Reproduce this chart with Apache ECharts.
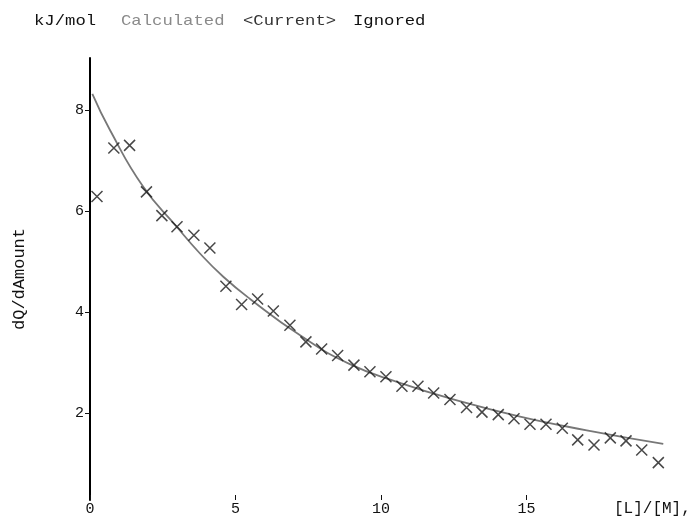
<!DOCTYPE html>
<html><head><meta charset="utf-8">
<script src="https://cdn.jsdelivr.net/npm/echarts@6/dist/echarts.min.js"></script>
<style>html,body{margin:0;padding:0;background:#fff}#c{width:698px;height:523px}</style>
</head><body><div id="c"></div>
<script>
// Measured points (x = [L]/[M], y = dQ/dAmount, kJ/mol)
const ratioX = [0.24,0.82,1.36,1.94,2.47,2.99,3.57,4.12,4.67,5.21,5.76,6.30,6.87,7.42,7.96,8.51,9.07,9.62,10.17,10.72,11.27,11.81,12.37,12.94,13.47,14.03,14.57,15.12,15.67,16.23,16.76,17.32,17.88,18.42,18.96,19.53];
const dQ = [6.29,7.25,7.30,6.38,5.91,5.69,5.52,5.27,4.51,4.15,4.26,4.02,3.74,3.41,3.27,3.14,2.95,2.82,2.72,2.53,2.53,2.40,2.27,2.11,2.02,1.97,1.89,1.78,1.78,1.70,1.47,1.37,1.51,1.45,1.27,1.02];
// Calculated fit curve
const fitX = [0.08,0.69,1.83,2.98,3.78,4.58,5.5,7.22,8.93,10.65,12.31,14.78,17.07,19.7];
const fitY = [8.32,7.60,6.48,5.69,5.16,4.70,4.26,3.54,2.97,2.60,2.30,1.93,1.66,1.39];
const xTicks = [0,5,10,15];
const yTicks = [2,4,6,8];

const font = 'Liberation Mono';
const chart = echarts.init(document.getElementById('c'));
const hdr = (x, t, c) => ({type:'text', x: x, y: 14, scaleX: 1.15, style:{text:t, fill:c, fontFamily: font, fontSize: 15}});
chart.setOption({
  animation: false,
  backgroundColor: '#fff',
  grid: {left: 90, right: 26, top: 58, bottom: 23},
  graphic: [
    hdr(34, 'kJ/mol', '#111'),
    hdr(121, 'Calculated', '#8a8a8a'),
    hdr(243, '<Current>', '#333'),
    hdr(353, 'Ignored', '#111')
  ],
  xAxis: {
    type: 'value', min: 0, max: 20,
    name: '[L]/[M],', nameLocation: 'end', nameGap: -58,
    nameTextStyle: {color:'#111', fontFamily: font, fontSize: 16, align:'left', verticalAlign:'top', padding:[1,0,0,0]},
    axisLine: {show: false},
    axisTick: {show: true, inside: true, length: 5, lineStyle:{color:'#111'}, customValues: xTicks},
    axisLabel: {color:'#111', fontFamily: font, fontSize: 15, margin: 2, customValues: xTicks},
    splitLine: {show: false}
  },
  yAxis: {
    type: 'value', min: 0.28, max: 9.03,
    name: 'dQ/dAmount', nameLocation: 'middle', nameGap: 62, nameRotate: 90,
    nameTextStyle: {color:'#111', fontFamily: font, fontSize: 17},
    axisLine: {show: true, lineStyle:{color:'#000', width: 2}},
    axisTick: {show: true, length: 5, lineStyle:{color:'#111'}, customValues: yTicks},
    axisLabel: {color:'#111', fontFamily: font, fontSize: 15, margin: 6, customValues: yTicks},
    splitLine: {show: false}
  },
  series: [
    {
      name: 'Calculated', type: 'line', smooth: true, showSymbol: false,
      data: fitX.map((x,i)=>[x, fitY[i]]),
      lineStyle: {color:'#777', width: 1.8}, z: 2
    },
    {
      name: 'Ignored', type: 'scatter',
      symbol: 'path://M0,0L10,10M10,0L0,10', symbolSize: 11,
      data: ratioX.map((x,i)=>[x, dQ[i]]),
      itemStyle: {color:'rgba(0,0,0,0)', borderColor:'#1a1a1a', borderWidth: 1.5}, z: 3
    }
  ]
});
</script></body></html>
